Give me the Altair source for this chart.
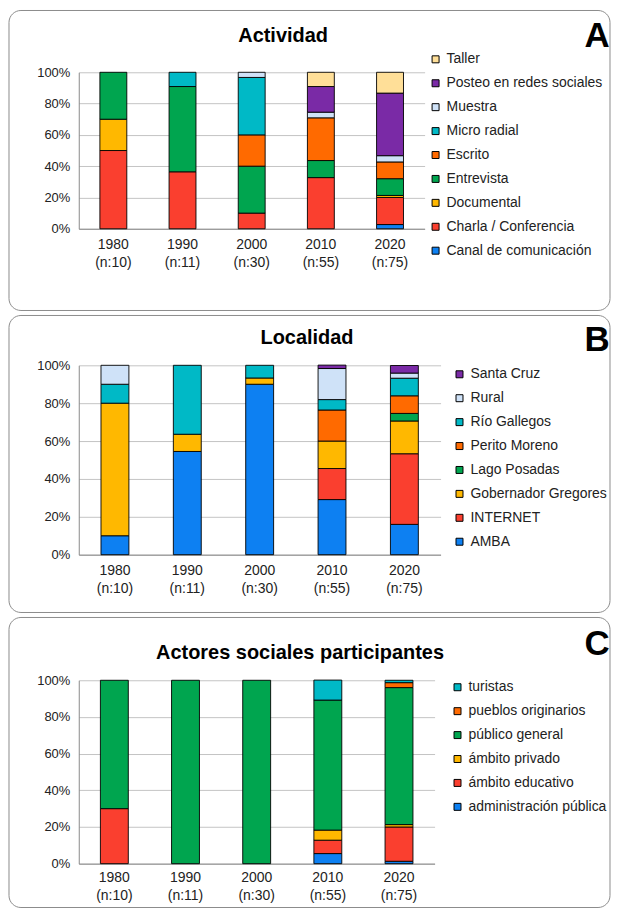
import altair as alt
import pandas as pd

FONT = "Liberation Sans"

decades = ["1980", "1990", "2000", "2010", "2020"]
n_values = ["(n:10)", "(n:11)", "(n:30)", "(n:55)", "(n:75)"]

# Panel A - Actividad (stack order bottom -> top)
act_cats = ["Canal de comunicación", "Charla / Conferencia", "Documental", "Entrevista",
            "Escrito", "Micro radial", "Muestra", "Posteo en redes sociales", "Taller"]
act_colors = ["#0D80F2", "#FA3F2F", "#FFB800", "#00A54F", "#FF6A00", "#00B9C6",
              "#CFE2F8", "#7A2AA6", "#FFDF98"]
act_canal = [0, 0, 0, 0, 2.7]
act_charla = [50, 36.4, 10, 32.7, 17.3]
act_documental = [20, 0, 0, 0, 1.3]
act_entrevista = [30, 54.5, 30, 10.9, 10.7]
act_escrito = [0, 0, 20, 27.3, 10.7]
act_micro = [0, 9.1, 36.7, 0, 0]
act_muestra = [0, 0, 3.3, 3.6, 4.0]
act_posteo = [0, 0, 0, 16.4, 40.0]
act_taller = [0, 0, 0, 9.1, 13.3]

# Panel B - Localidad
loc_cats = ["AMBA", "INTERNET", "Gobernador Gregores", "Lago Posadas", "Perito Moreno",
            "Río Gallegos", "Rural", "Santa Cruz"]
loc_colors = ["#0D80F2", "#FA3F2F", "#FFB800", "#00A54F", "#FF6A00", "#00B9C6",
              "#CFE2F8", "#7A2AA6"]
loc_amba = [10, 54.5, 90, 29.1, 16.0]
loc_internet = [0, 0, 0, 16.4, 37.3]
loc_gobernador = [70, 9.1, 3.3, 14.5, 17.3]
loc_lago = [0, 0, 0, 0, 4.0]
loc_perito = [0, 0, 0, 16.4, 9.3]
loc_rio = [10, 36.4, 6.7, 5.5, 9.3]
loc_rural = [10, 0, 0, 16.4, 2.7]
loc_santacruz = [0, 0, 0, 1.8, 4.0]

# Panel C - Actores sociales participantes
actor_cats = ["administración pública", "ámbito educativo", "ámbito privado",
              "público general", "pueblos originarios", "turistas"]
actor_colors = ["#0D80F2", "#FA3F2F", "#FFB800", "#00A54F", "#FF6A00", "#00B9C6"]
actor_admin = [0, 0, 0, 5.5, 1.3]
actor_educativo = [30, 0, 0, 7.3, 18.7]
actor_privado = [0, 0, 0, 5.5, 1.3]
actor_publico = [70, 100, 100, 70.9, 74.7]
actor_pueblos = [0, 0, 0, 0, 2.7]
actor_turistas = [0, 0, 0, 10.9, 1.3]

titles = ["Actividad", "Localidad", "Actores sociales participantes"]
letters = ["A", "B", "C"]
y_ticks = [0, 20, 40, 60, 80, 100]

x_labels = [d + "|" + n for d, n in zip(decades, n_values)]


def make_df(cats, series):
    rows = []
    for i, (cat, vals) in enumerate(zip(cats, series)):
        for lab, v in zip(x_labels, vals):
            if v > 0:
                rows.append({"label": lab, "cat": cat, "value": v, "idx": i})
    return pd.DataFrame(rows)


def panel(df, cats, colors, title, letter, W, H, box, title_xy, letter_xy, legend_xy, bar_w,
          xlab_pad=9):
    box_layer = alt.Chart(alt.Data(values=[{"b": 1}])).mark_rect(
        fill="transparent", stroke="#8c8c8c", strokeWidth=1, cornerRadius=12
    ).encode(x=alt.value(box[0]), x2=alt.value(box[1]), y=alt.value(box[2]), y2=alt.value(box[3]))

    bars = alt.Chart(df).mark_bar(stroke="black", strokeWidth=0.9, size=bar_w).encode(
        x=alt.X("label:N", sort=x_labels, title=None,
                scale=alt.Scale(paddingInner=0, paddingOuter=0),
                axis=alt.Axis(labelAngle=0, labelExpr="split(datum.label, '|')",
                              labelFont=FONT, labelFontSize=14, labelColor="#222222",
                              labelLineHeight=18, labelPadding=xlab_pad, ticks=False,
                              domainColor="#8a8a8a", grid=False)),
        y=alt.Y("value:Q", stack="zero", title=None,
                scale=alt.Scale(domain=[0, 100], nice=False),
                axis=alt.Axis(values=y_ticks, labelExpr="datum.value + '%'",
                              labelFont=FONT, labelFontSize=13, labelColor="#222222",
                              labelPadding=9, ticks=False, domainColor="#8a8a8a",
                              gridColor="#c4c4c4", gridWidth=1)),
        color=alt.Color("cat:N",
                        scale=alt.Scale(domain=list(reversed(cats)), range=list(reversed(colors))),
                        legend=alt.Legend(orient="none", legendX=legend_xy[0], legendY=legend_xy[1],
                                          title=None, symbolType="square", symbolSize=49,
                                          symbolStrokeColor="black", symbolStrokeWidth=1,
                                          labelFont=FONT, labelFontSize=14, labelColor="#222222",
                                          labelOffset=4, rowPadding=10, padding=0,
                                          labelLimit=300)),
        order=alt.Order("idx:Q", sort="ascending"),
    )

    title_layer = alt.Chart(alt.Data(values=[{"t": title}])).mark_text(
        font=FONT, fontSize=20, fontWeight="bold", color="black", align="center",
        baseline="alphabetic"
    ).encode(x=alt.value(title_xy[0]), y=alt.value(title_xy[1]), text="t:N")

    letter_layer = alt.Chart(alt.Data(values=[{"t": letter}])).mark_text(
        font=FONT, fontSize=35, fontWeight="bold", color="black", align="center",
        baseline="alphabetic"
    ).encode(x=alt.value(letter_xy[0]), y=alt.value(letter_xy[1]), text="t:N")

    return alt.layer(box_layer, bars, title_layer, letter_layer).properties(width=W, height=H)


df_a = make_df(act_cats, [act_canal, act_charla, act_documental, act_entrevista, act_escrito,
                          act_micro, act_muestra, act_posteo, act_taller])
df_b = make_df(loc_cats, [loc_amba, loc_internet, loc_gobernador, loc_lago, loc_perito,
                          loc_rio, loc_rural, loc_santacruz])
df_c = make_df(actor_cats, [actor_admin, actor_educativo, actor_privado, actor_publico,
                            actor_pueblos, actor_turistas])

# all panels share the same plot origin (78px from the box's left edge)
pa = panel(df_a, act_cats, act_colors, titles[0], letters[0], 347, 157,
           (-70, 533, -62, 239), (205, -30), (520, -25), (351, -20), 27)
pb = panel(df_b, loc_cats, loc_colors, titles[1], letters[1], 363, 190,
           (-70, 533, -50, 248), (229, -21), (520, -14), (375, 2), 28)
pc = panel(df_c, actor_cats, actor_colors, titles[2], letters[2], 357, 184,
           (-70, 533, -63, 228), (222, -21), (520, -25), (373, 0), 28, 7)

chart = alt.vconcat(pa, pb, pc, spacing=3).resolve_scale(
    x="independent", y="independent", color="independent"
).properties(padding=0, background="white").configure_view(stroke=None)

chart.save("out.html", embed_options={"renderer": "svg", "actions": False})
